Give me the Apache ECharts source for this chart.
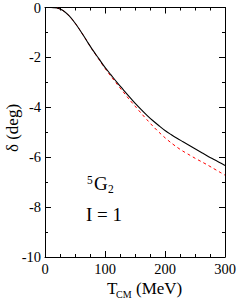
<!DOCTYPE html>
<html>
<head>
<meta charset="utf-8">
<script src="https://cdn.jsdelivr.net/npm/echarts@6/dist/echarts.min.js"></script>
<style>html,body{margin:0;padding:0;background:#fff}#c{width:240px;height:300px}</style>
</head>
<body>
<div id="c"></div>
<script>
var tValues = [0,10,20,30,40,50,60,70,80,90,100,110,120,130,140,150,160,170,180,190,200,210,220,230,240,250,260,270,280,290,300];
var deltaSolid = [0,0,-0.02,-0.12,-0.33,-0.62,-0.97,-1.35,-1.72,-2.06,-2.4,-2.7,-3.0,-3.28,-3.56,-3.83,-4.08,-4.32,-4.54,-4.74,-4.93,-5.09,-5.24,-5.38,-5.52,-5.66,-5.8,-5.94,-6.07,-6.2,-6.33];
var deltaDashed = [0,0,-0.02,-0.12,-0.33,-0.62,-0.97,-1.35,-1.73,-2.09,-2.44,-2.76,-3.07,-3.37,-3.67,-3.95,-4.23,-4.5,-4.76,-5.0,-5.22,-5.42,-5.6,-5.76,-5.9,-6.04,-6.17,-6.3,-6.44,-6.58,-6.72];
var xTicks = [0,100,200,300];
var yTicks = [-10,-8,-6,-4,-2,0];

var serif = '"Liberation Serif","DejaVu Serif",serif';
function pairs(xs, ys){ return xs.map(function(x,i){ return [x, ys[i]]; }); }

var chart = echarts.init(document.getElementById('c'), null, {renderer:'svg'});
var axisCommon = {
  type:'value',
  axisLine:{show:true, onZero:false, lineStyle:{color:'#000', width:1}},
  axisTick:{show:true, inside:true, length:6, lineStyle:{color:'#000', width:1}},
  minorTick:{show:true, length:3, lineStyle:{color:'#000', width:1}},
  splitLine:{show:false}
};
function txt(s, x, y, fs){
  return {type:'text', x:x, y:y, style:{text:s, fontFamily:serif, fontSize:fs, fill:'#000', align:'left', verticalAlign:'top'}};
}
chart.setOption({
  animation:false,
  backgroundColor:'#fff',
  grid:{left:45, right:15, top:6, bottom:43, containLabel:false},
  xAxis:[
    Object.assign({}, axisCommon, {min:xTicks[0], max:xTicks[xTicks.length-1], interval:100, position:'bottom',
      minorTick:Object.assign({}, axisCommon.minorTick, {splitNumber:4}),
      axisLabel:{show:true, margin:4, color:'#000', fontFamily:serif, fontSize:14.5}}),
    Object.assign({}, axisCommon, {min:xTicks[0], max:xTicks[xTicks.length-1], interval:100, position:'top',
      minorTick:Object.assign({}, axisCommon.minorTick, {splitNumber:4}),
      axisLabel:{show:false}})
  ],
  yAxis:[
    Object.assign({}, axisCommon, {min:yTicks[0], max:yTicks[yTicks.length-1], interval:2, position:'left',
      minorTick:Object.assign({}, axisCommon.minorTick, {splitNumber:2}),
      axisLabel:{show:true, margin:4, color:'#000', fontFamily:serif, fontSize:14.5}}),
    Object.assign({}, axisCommon, {min:yTicks[0], max:yTicks[yTicks.length-1], interval:2, position:'right',
      minorTick:Object.assign({}, axisCommon.minorTick, {splitNumber:2}),
      axisLabel:{show:false}})
  ],
  series:[
    {type:'line', data:pairs(tValues, deltaDashed), smooth:0.3, symbol:'none',
      lineStyle:{color:'#ff0000', width:1, type:[3,3]}, z:2},
    {type:'line', data:pairs(tValues, deltaSolid), smooth:0.3, symbol:'none',
      lineStyle:{color:'#000', width:1.1}, z:3}
  ],
  graphic:[
    {type:'text', x:12, y:128, rotation:Math.PI/2,
      style:{text:'δ (deg)', fontFamily:serif, fontSize:17, fill:'#000', align:'center', verticalAlign:'middle'}},
    txt('T', 107, 280, 17),
    txt('CM', 116, 289, 10),
    txt('(MeV)', 136, 280, 17),
    txt('5', 87, 174, 11.5),
    txt('G', 94, 174, 19),
    txt('2', 108, 183, 11.5),
    txt('I = 1', 86, 205, 19)
  ]
});
</script>
</body>
</html>
